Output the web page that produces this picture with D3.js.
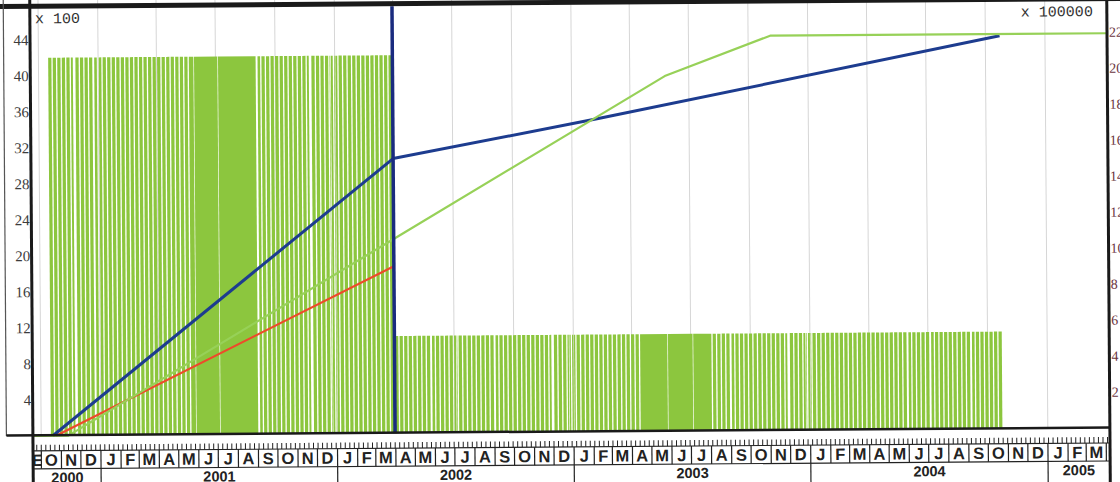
<!DOCTYPE html>
<html>
<head>
<meta charset="utf-8">
<script src="https://cdn.jsdelivr.net/npm/d3@7"></script>
<style>
  html, body { margin: 0; padding: 0; background: #fff; }
  svg { display: block; }
</style>
</head>
<body>
<svg id="chart" width="1120" height="482"></svg>
<script>
// ---- Resource schedule: daily work units (x 100) on working days ----
const phaseStart = ["2000-10-16", "2002-04-01"];
const phaseEnd   = ["2002-03-29", "2004-10-22"];
const phaseUnits = [42, 10.8];

// Spans in which weekends were worked too
const fullWeekStart = ["2001-05-26", "2003-04-19"];
const fullWeekEnd   = ["2001-08-26", "2003-07-31"];

// Non-working days
const holidays = [
  "2000-11-23", "2000-11-24", "2000-12-25", "2001-01-01", "2001-05-28", "2001-07-04",
  "2001-09-03", "2001-11-22", "2001-11-23", "2001-12-25", "2002-01-01", "2002-05-27",
  "2002-07-04", "2002-09-02", "2002-11-28", "2002-11-29", "2002-12-25", "2003-01-01",
  "2003-05-26", "2003-07-04", "2003-09-01", "2003-11-27", "2003-11-28", "2003-12-25",
  "2004-01-01", "2004-05-31", "2004-07-05", "2004-09-06"
];

// ---- Cumulative curves (x 100000) ----
const workDates      = ["2000-10-19", "2002-03-31", "2003-02-13", "2004-10-23"];
const workValues     = [0, 15.26, 17.41, 21.83];
const baselineDates  = ["2000-09-19", "2000-11-12", "2002-03-31", "2003-05-25", "2003-11-04", "2005-04-06"];
const baselineValues = [0, 0, 10.79, 19.73, 21.93, 21.93];
const costDates      = ["2000-10-24", "2002-03-31"];
const costValues     = [0, 9.28];
const statusDate     = "2002-03-31";

// ---- Axis labels ----
const leftTicks  = [4, 8, 12, 16, 20, 24, 28, 32, 36, 40, 44];
const rightTicks = [2, 4, 6, 8, 10, 12, 14, 16, 18, 20, 22];
const leftUnit   = "x 100";
const rightUnit  = "x 100000";
const monthLetters = ["J", "F", "M", "A", "M", "J", "J", "A", "S", "O", "N", "D"];
const firstMonthLabel = "E";
const yearLabels = ["2000", "2001", "2002", "2003", "2004", "2005"];

const viewStart = "2000-09-19";
const viewEnd   = "2005-04-06";

// ---- Layout ----
const W = 1120, H = 482;
const plotL = 32, plotR = 1108, plotT = 0, plotB = 432;

const parse = d3.utcParse("%Y-%m-%d");
const fmt = d3.utcFormat("%Y-%m-%d");

const x = d3.scaleUtc().domain([parse(viewStart), parse(viewEnd)]).range([plotL, plotR]);
const yL = d3.scaleLinear().domain([0, 48]).range([plotB, plotT]);
const yR = d3.scaleLinear().domain([0, 24]).range([plotB, plotT]);

const svg = d3.select("#chart");
svg.append("rect").attr("width", W).attr("height", H).attr("fill", "#fff");

const root = svg.append("g").attr("transform", "rotate(-0.42 560 241)");
root.append("rect").attr("x", -20).attr("y", -20).attr("width", W + 40).attr("height", H + 40).attr("fill", "#fff");

// quarterly gridlines
const quarters = d3.utcMonth.every(3).range(parse("2000-10-01"), parse("2005-03-01"));
root.append("g").selectAll("line").data(quarters).join("line")
  .attr("x1", d => x(d)).attr("x2", d => x(d))
  .attr("y1", -6).attr("y2", plotB)
  .attr("stroke", "#d6d6d6").attr("stroke-width", 1);

// daily bars, merged into runs of consecutive working days
const holidaySet = new Set(holidays);
const fullSpans = fullWeekStart.map((s, j) => [parse(s), parse(fullWeekEnd[j])]);
const runs = [];
phaseStart.forEach((s, i) => {
  const days = d3.utcDay.range(parse(s), d3.utcDay.offset(parse(phaseEnd[i]), 1));
  let cur = null;
  days.forEach(d => {
    const dow = d.getUTCDay();
    const weekendWorked = fullSpans.some(([a, b]) => d >= a && d <= b);
    const working = !holidaySet.has(fmt(d)) && (weekendWorked || (dow !== 0 && dow !== 6));
    if (!working) return;
    if (cur && +cur.end === +d) {
      cur.end = d3.utcDay.offset(d, 1);
    } else {
      cur = { start: d, end: d3.utcDay.offset(d, 1), value: phaseUnits[i] };
      runs.push(cur);
    }
  });
});
root.append("g").selectAll("rect").data(runs).join("rect")
  .attr("x", d => x(d.start))
  .attr("width", d => x(d.end) - x(d.start))
  .attr("y", d => yL(d.value))
  .attr("height", d => yL(0) - yL(d.value))
  .attr("fill", "#8cc63e");

// cumulative lines
const series = (dates, values) => dates.map((d, i) => ({ date: parse(d), value: values[i] }));
const line = d3.line().x(d => x(d.date)).y(d => yR(d.value));
const lines = [
  { data: series(costDates, costValues), color: "#ee4a2a", width: 2.2 },
  { data: series(workDates, workValues), color: "#1d3c8f", width: 3 },
  { data: series(baselineDates, baselineValues), color: "#97d158", width: 2.2 }
];
root.append("g").selectAll("path").data(lines).join("path")
  .attr("d", d => line(d.data))
  .attr("fill", "none")
  .attr("stroke", d => d.color)
  .attr("stroke-width", d => d.width)
  .attr("stroke-linejoin", "round");

// status date marker
root.append("line")
  .attr("x1", x(parse(statusDate))).attr("x2", x(parse(statusDate)))
  .attr("y1", 5).attr("y2", plotB)
  .attr("stroke", "#1a2b7f").attr("stroke-width", 3.5);

// left value labels
root.append("g").selectAll("text").data(leftTicks).join("text")
  .attr("x", plotL - 2).attr("y", d => yL(d)).attr("dy", "0.35em")
  .attr("text-anchor", "end")
  .attr("font-family", "'Liberation Serif', serif").attr("font-size", 15)
  .attr("fill", "#3c3c3c")
  .text(d => d);

// right value labels
root.append("g").selectAll("text").data(rightTicks).join("text")
  .attr("x", plotR + 2.5).attr("y", d => yR(d)).attr("dy", "0.35em")
  .attr("text-anchor", "start")
  .attr("font-family", "'Liberation Serif', serif").attr("font-size", 14)
  .attr("fill", "#6b3440")
  .text(d => d);

// unit captions
root.append("text").attr("x", 36.5).attr("y", 19.5)
  .attr("font-family", "'Liberation Mono', monospace").attr("font-size", 15)
  .attr("fill", "#333").text(leftUnit);
root.append("text").attr("x", 1022.5).attr("y", 20)
  .attr("font-family", "'Liberation Mono', monospace").attr("font-size", 15)
  .attr("fill", "#333").text(rightUnit);

// frame
const frame = root.append("g").attr("stroke", "#1a1a1a").attr("fill", "none");
frame.append("line").attr("x1", -10).attr("x2", W + 10).attr("y1", 2.5).attr("y2", 2.5).attr("stroke-width", 5);
frame.append("line").attr("x1", 5).attr("x2", 5).attr("y1", -10).attr("y2", plotB).attr("stroke-width", 1.2).attr("stroke", "#555");
frame.append("line").attr("x1", 5).attr("x2", plotR + 1).attr("y1", plotB - 0.5).attr("y2", plotB - 0.5).attr("stroke-width", 2.5);
frame.append("line").attr("x1", plotL - 0.5).attr("x2", plotL - 0.5).attr("y1", -10).attr("y2", H + 10).attr("stroke-width", 3);
frame.append("line").attr("x1", plotR + 0.5).attr("x2", plotR + 0.5).attr("y1", -10).attr("y2", H + 10).attr("stroke-width", 3);

// ---- time axis ----
const axisG = root.append("g");
const tickTop = 441, tickBot = 447, monthTop = 447, monthBot = 465, yearBot = H + 10;

// weekly ticks
const weeks = d3.utcWeek.range(x.domain()[0], x.domain()[1]);
axisG.append("g").selectAll("line").data(weeks).join("line")
  .attr("x1", d => x(d)).attr("x2", d => x(d))
  .attr("y1", tickTop).attr("y2", tickBot)
  .attr("stroke", "#222").attr("stroke-width", 1);

axisG.append("line").attr("x1", plotL).attr("x2", plotR).attr("y1", monthTop).attr("y2", monthTop)
  .attr("stroke", "#222").attr("stroke-width", 1.2);
axisG.append("line").attr("x1", plotL).attr("x2", plotR).attr("y1", monthBot).attr("y2", monthBot)
  .attr("stroke", "#222").attr("stroke-width", 1.2);

// month cells
const monthStarts = d3.utcMonth.range(d3.utcMonth.floor(x.domain()[0]), x.domain()[1]);
const months = monthStarts.map((m, i) => {
  const a = Math.max(x(m), plotL);
  const b = Math.min(x(d3.utcMonth.offset(m, 1)), plotR);
  return { start: m, a, b, label: i === 0 ? firstMonthLabel : monthLetters[m.getUTCMonth()] };
});
axisG.append("g").selectAll("line").data(months.filter(m => x(m.start) > plotL)).join("line")
  .attr("x1", d => x(d.start)).attr("x2", d => x(d.start))
  .attr("y1", monthTop).attr("y2", monthBot)
  .attr("stroke", "#222").attr("stroke-width", 1.2);

const defs = svg.append("defs");
months.forEach((m, i) => {
  defs.append("clipPath").attr("id", "mclip" + i)
    .append("rect").attr("x", m.a).attr("y", monthTop).attr("width", Math.max(0, m.b - m.a)).attr("height", monthBot - monthTop);
});
axisG.append("g").selectAll("text").data(months.filter(m => m.b - m.a > 6)).join("text")
  .attr("clip-path", (d) => "url(#mclip" + months.indexOf(d) + ")")
  .attr("x", d => (d.a + d.b) / 2).attr("y", 462)
  .attr("text-anchor", "middle")
  .attr("font-family", "'Liberation Sans', Arial, sans-serif").attr("font-weight", "bold").attr("font-size", 16.5)
  .attr("fill", "#222")
  .text(d => d.label);

// year cells
const yearStarts = yearLabels.map(y => parse(y + "-01-01"));
axisG.append("g").selectAll("line").data(yearStarts.filter(d => x(d) > plotL)).join("line")
  .attr("x1", d => x(d)).attr("x2", d => x(d))
  .attr("y1", monthBot).attr("y2", yearBot)
  .attr("stroke", "#222").attr("stroke-width", 1.2);
axisG.append("g").selectAll("text").data(yearLabels).join("text")
  .attr("x", (d, i) => {
    const a = Math.max(x(yearStarts[i]), plotL);
    const b = Math.min(x(parse((+d + 1) + "-01-01")), plotR);
    return (a + b) / 2;
  })
  .attr("y", 479)
  .attr("text-anchor", "middle")
  .attr("font-family", "'Liberation Sans', Arial, sans-serif").attr("font-weight", "bold").attr("font-size", 14.5)
  .attr("fill", "#222")
  .text(d => d);
</script>
</body>
</html>
